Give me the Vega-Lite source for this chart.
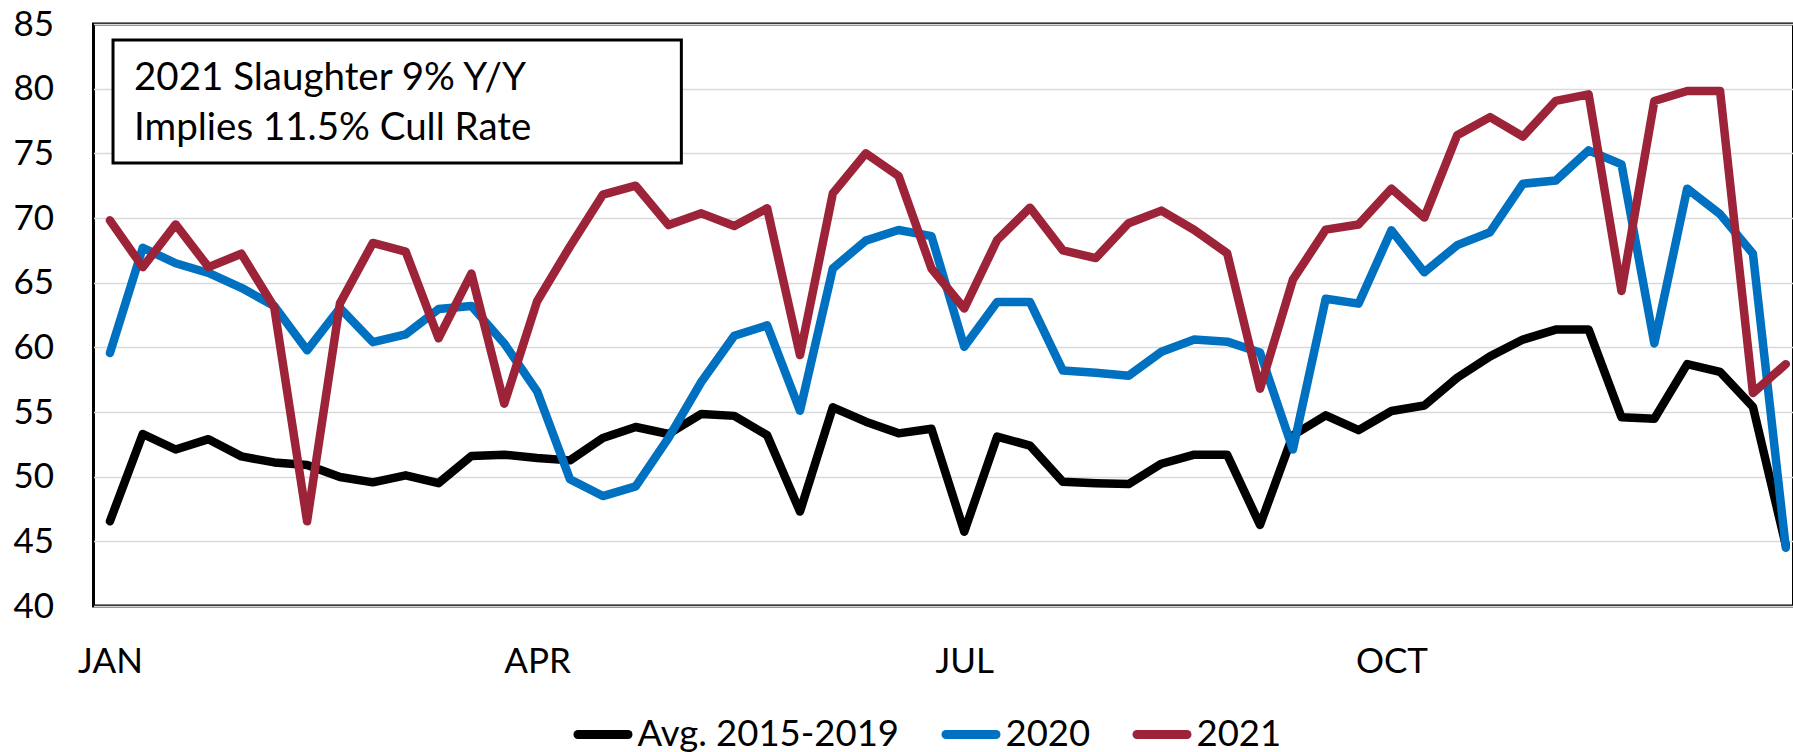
{
  "$schema": "https://vega.github.io/schema/vega-lite/v6.json",
  "width": 1700,
  "height": 582,
  "autosize": {"type": "none"},
  "padding": {"left": 93.5, "top": 24, "right": 0, "bottom": 146},
  "background": "white",
  "config": {
    "font": "Lato",
    "view": {"stroke": "#000000", "strokeWidth": 3},
    "axis": {"labelFont": "Lato", "labelColor": "#000000", "domain": false, "ticks": false, "tickSize": 0, "title": null}
  },
  "data": {"values": [
    {"week":1,"series":"Avg. 2015-2019","value":46.55},{"week":1,"series":"2020","value":59.56},{"week":1,"series":"2021","value":69.82},
    {"week":2,"series":"Avg. 2015-2019","value":53.3},{"week":2,"series":"2020","value":67.7},{"week":2,"series":"2021","value":66.2},
    {"week":3,"series":"Avg. 2015-2019","value":52.1},{"week":3,"series":"2020","value":66.5},{"week":3,"series":"2021","value":69.5},
    {"week":4,"series":"Avg. 2015-2019","value":52.9},{"week":4,"series":"2020","value":65.75},{"week":4,"series":"2021","value":66.2},
    {"week":5,"series":"Avg. 2015-2019","value":51.57},{"week":5,"series":"2020","value":64.6},{"week":5,"series":"2021","value":67.24},
    {"week":6,"series":"Avg. 2015-2019","value":51.1},{"week":6,"series":"2020","value":63.2},{"week":6,"series":"2021","value":63.1},
    {"week":7,"series":"Avg. 2015-2019","value":50.9},{"week":7,"series":"2020","value":59.77},{"week":7,"series":"2021","value":46.55},
    {"week":8,"series":"Avg. 2015-2019","value":49.97},{"week":8,"series":"2020","value":63.04},{"week":8,"series":"2021","value":63.4},
    {"week":9,"series":"Avg. 2015-2019","value":49.56},{"week":9,"series":"2020","value":60.4},{"week":9,"series":"2021","value":68.07},
    {"week":10,"series":"Avg. 2015-2019","value":50.1},{"week":10,"series":"2020","value":61.0},{"week":10,"series":"2021","value":67.4},
    {"week":11,"series":"Avg. 2015-2019","value":49.5},{"week":11,"series":"2020","value":62.96},{"week":11,"series":"2021","value":60.7},
    {"week":12,"series":"Avg. 2015-2019","value":51.6},{"week":12,"series":"2020","value":63.2},{"week":12,"series":"2021","value":65.7},
    {"week":13,"series":"Avg. 2015-2019","value":51.7},{"week":13,"series":"2020","value":60.3},{"week":13,"series":"2021","value":55.64},
    {"week":14,"series":"Avg. 2015-2019","value":51.44},{"week":14,"series":"2020","value":56.6},{"week":14,"series":"2021","value":63.56},
    {"week":15,"series":"Avg. 2015-2019","value":51.26},{"week":15,"series":"2020","value":49.8},{"week":15,"series":"2021","value":67.8},
    {"week":16,"series":"Avg. 2015-2019","value":52.99},{"week":16,"series":"2020","value":48.5},{"week":16,"series":"2021","value":71.8},
    {"week":17,"series":"Avg. 2015-2019","value":53.84},{"week":17,"series":"2020","value":49.25},{"week":17,"series":"2021","value":72.5},
    {"week":18,"series":"Avg. 2015-2019","value":53.3},{"week":18,"series":"2020","value":53.0},{"week":18,"series":"2021","value":69.45},
    {"week":19,"series":"Avg. 2015-2019","value":54.85},{"week":19,"series":"2020","value":57.34},{"week":19,"series":"2021","value":70.36},
    {"week":20,"series":"Avg. 2015-2019","value":54.7},{"week":20,"series":"2020","value":60.9},{"week":20,"series":"2021","value":69.38},
    {"week":21,"series":"Avg. 2015-2019","value":53.2},{"week":21,"series":"2020","value":61.7},{"week":21,"series":"2021","value":70.75},
    {"week":22,"series":"Avg. 2015-2019","value":47.3},{"week":22,"series":"2020","value":55.1},{"week":22,"series":"2021","value":59.4},
    {"week":23,"series":"Avg. 2015-2019","value":55.36},{"week":23,"series":"2020","value":66.1},{"week":23,"series":"2021","value":71.9},
    {"week":24,"series":"Avg. 2015-2019","value":54.25},{"week":24,"series":"2020","value":68.25},{"week":24,"series":"2021","value":75.0},
    {"week":25,"series":"Avg. 2015-2019","value":53.35},{"week":25,"series":"2020","value":69.07},{"week":25,"series":"2021","value":73.25},
    {"week":26,"series":"Avg. 2015-2019","value":53.7},{"week":26,"series":"2020","value":68.6},{"week":26,"series":"2021","value":66.1},
    {"week":27,"series":"Avg. 2015-2019","value":45.75},{"week":27,"series":"2020","value":60.05},{"week":27,"series":"2021","value":63.0},
    {"week":28,"series":"Avg. 2015-2019","value":53.1},{"week":28,"series":"2020","value":63.5},{"week":28,"series":"2021","value":68.3},
    {"week":29,"series":"Avg. 2015-2019","value":52.4},{"week":29,"series":"2020","value":63.5},{"week":29,"series":"2021","value":70.8},
    {"week":30,"series":"Avg. 2015-2019","value":49.6},{"week":30,"series":"2020","value":58.2},{"week":30,"series":"2021","value":67.5},
    {"week":31,"series":"Avg. 2015-2019","value":49.5},{"week":31,"series":"2020","value":58.04},{"week":31,"series":"2021","value":66.9},
    {"week":32,"series":"Avg. 2015-2019","value":49.43},{"week":32,"series":"2020","value":57.8},{"week":32,"series":"2021","value":69.6},
    {"week":33,"series":"Avg. 2015-2019","value":51.0},{"week":33,"series":"2020","value":59.66},{"week":33,"series":"2021","value":70.57},
    {"week":34,"series":"Avg. 2015-2019","value":51.7},{"week":34,"series":"2020","value":60.6},{"week":34,"series":"2021","value":69.07},
    {"week":35,"series":"Avg. 2015-2019","value":51.7},{"week":35,"series":"2020","value":60.44},{"week":35,"series":"2021","value":67.27},
    {"week":36,"series":"Avg. 2015-2019","value":46.27},{"week":36,"series":"2020","value":59.6},{"week":36,"series":"2021","value":56.8},
    {"week":37,"series":"Avg. 2015-2019","value":53.2},{"week":37,"series":"2020","value":52.1},{"week":37,"series":"2021","value":65.23},
    {"week":38,"series":"Avg. 2015-2019","value":54.74},{"week":38,"series":"2020","value":63.76},{"week":38,"series":"2021","value":69.1},
    {"week":39,"series":"Avg. 2015-2019","value":53.6},{"week":39,"series":"2020","value":63.38},{"week":39,"series":"2021","value":69.5},
    {"week":40,"series":"Avg. 2015-2019","value":55.08},{"week":40,"series":"2020","value":69.05},{"week":40,"series":"2021","value":72.27},
    {"week":41,"series":"Avg. 2015-2019","value":55.5},{"week":41,"series":"2020","value":65.8},{"week":41,"series":"2021","value":70.03},
    {"week":42,"series":"Avg. 2015-2019","value":57.65},{"week":42,"series":"2020","value":67.9},{"week":42,"series":"2021","value":76.4},
    {"week":43,"series":"Avg. 2015-2019","value":59.3},{"week":43,"series":"2020","value":68.9},{"week":43,"series":"2021","value":77.8},
    {"week":44,"series":"Avg. 2015-2019","value":60.6},{"week":44,"series":"2020","value":72.65},{"week":44,"series":"2021","value":76.3},
    {"week":45,"series":"Avg. 2015-2019","value":61.37},{"week":45,"series":"2020","value":72.9},{"week":45,"series":"2021","value":79.05},
    {"week":46,"series":"Avg. 2015-2019","value":61.37},{"week":46,"series":"2020","value":75.23},{"week":46,"series":"2021","value":79.56},
    {"week":47,"series":"Avg. 2015-2019","value":54.6},{"week":47,"series":"2020","value":74.15},{"week":47,"series":"2021","value":64.36},
    {"week":48,"series":"Avg. 2015-2019","value":54.48},{"week":48,"series":"2020","value":60.3},{"week":48,"series":"2021","value":79.05},
    {"week":49,"series":"Avg. 2015-2019","value":58.7},{"week":49,"series":"2020","value":72.27},{"week":49,"series":"2021","value":79.82},
    {"week":50,"series":"Avg. 2015-2019","value":58.1},{"week":50,"series":"2020","value":70.3},{"week":50,"series":"2021","value":79.82},
    {"week":51,"series":"Avg. 2015-2019","value":55.4},{"week":51,"series":"2020","value":67.24},{"week":51,"series":"2021","value":56.47},
    {"week":52,"series":"Avg. 2015-2019","value":44.7},{"week":52,"series":"2020","value":44.5},{"week":52,"series":"2021","value":58.7}
  ]},
  "layer": [
    {
      "mark": {"type": "line", "strokeWidth": 8.5, "strokeJoin": "round", "strokeCap": "round"},
      "encoding": {
        "x": {
          "field": "week", "type": "quantitative",
          "scale": {"domain": [0.5, 52.235], "nice": false, "zero": false},
          "axis": {
            "values": [1, 14, 27, 40],
            "labelExpr": "datum.value == 1 ? 'JAN' : datum.value == 14 ? 'APR' : datum.value == 27 ? 'JUL' : 'OCT'",
            "labelFontSize": 35, "labelPadding": 38, "labelFlush": false, "grid": false
          }
        },
        "y": {
          "field": "value", "type": "quantitative",
          "scale": {"domain": [40, 85], "nice": false, "zero": false},
          "axis": {
            "values": [40, 45, 50, 55, 60, 65, 70, 75, 80, 85],
            "labelFontSize": 35, "labelPadding": 40,
            "grid": true, "gridColor": "#D9D9D9", "gridWidth": 1.5
          }
        },
        "color": {
          "field": "series", "type": "nominal",
          "scale": {"domain": ["Avg. 2015-2019", "2020", "2021"], "range": ["#000000", "#0070C0", "#9C2338"]},
          "legend": {
            "title": null, "orient": "none", "direction": "horizontal",
            "legendX": 480, "legendY": 681, "padding": 0,
            "symbolType": "stroke", "symbolSize": 2500, "symbolStrokeWidth": 9,
            "labelFont": "Lato", "labelFontSize": 36.5, "labelColor": "#000000", "labelLimit": 0,
            "labelOffset": 5, "columnPadding": 28,
            "encode": {"symbols": {"update": {"strokeCap": {"value": "round"}}}}
          }
        }
      }
    },
    {
      "data": {"values": [{}]},
      "mark": {"type": "rect", "fill": "white", "stroke": "#000000", "strokeWidth": 3},
      "encoding": {
        "x": {"datum": 1.094, "type": "quantitative"},
        "x2": {"datum": 18.39},
        "y": {"datum": 83.76, "type": "quantitative"},
        "y2": {"datum": 74.25}
      }
    },
    {
      "data": {"values": [{}]},
      "mark": {
        "type": "text", "font": "Lato", "fontSize": 38.5, "color": "#000000",
        "align": "left", "baseline": "alphabetic", "lineHeight": 50,
        "text": ["2021 Slaughter 9% Y/Y", "Implies 11.5% Cull Rate"]
      },
      "encoding": {
        "x": {"datum": 1.733, "type": "quantitative"},
        "y": {"datum": 79.9, "type": "quantitative"}
      }
    }
  ]
}
